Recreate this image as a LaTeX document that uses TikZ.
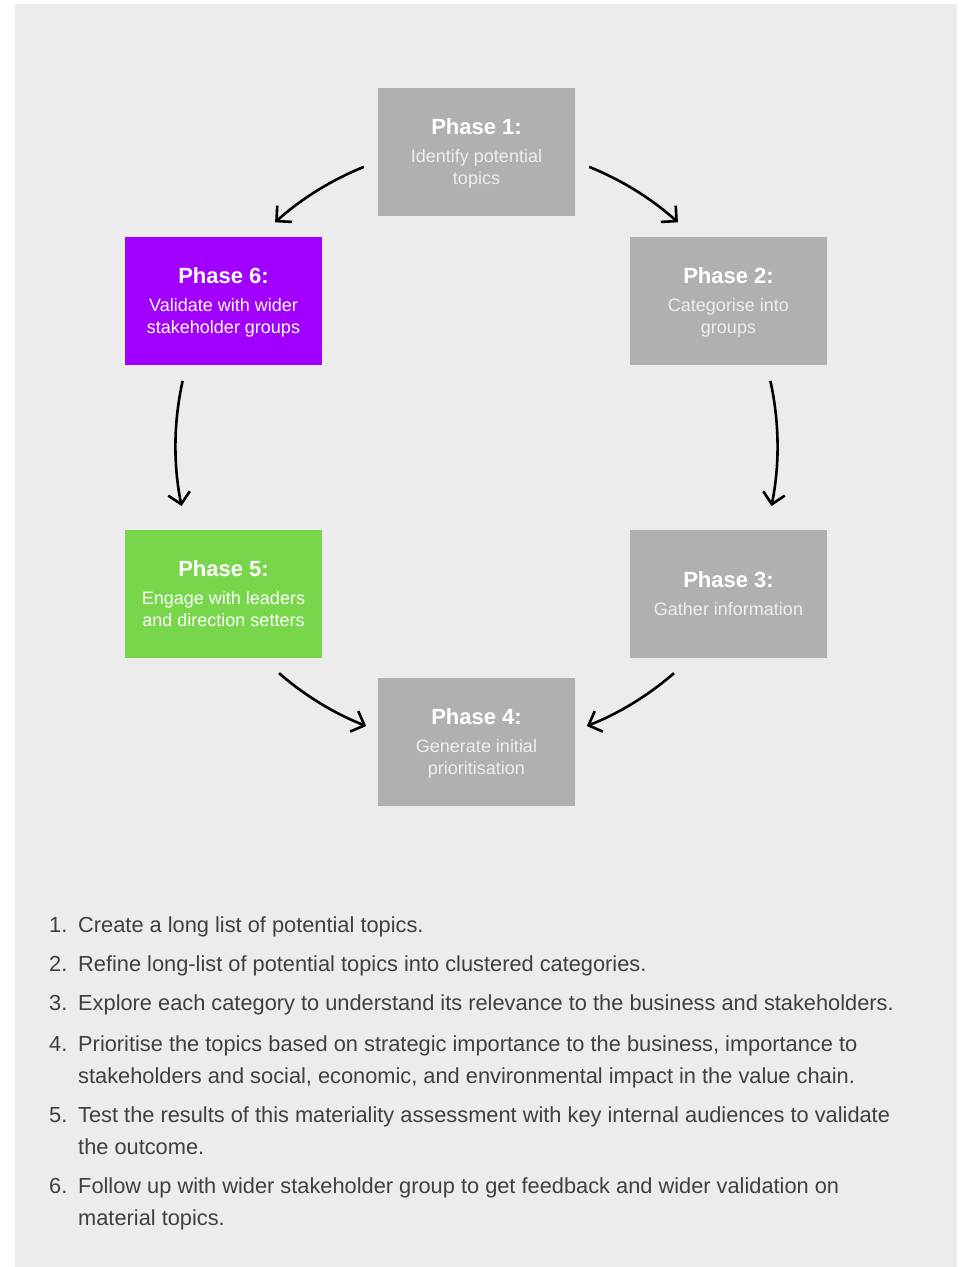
\documentclass[tikz,border=0pt]{standalone}
\usepackage{fontspec}
\setmainfont{Liberation Sans}
\usetikzlibrary{arrows.meta}
\definecolor{panel}{HTML}{ECECEC}
\definecolor{boxgray}{HTML}{B0B0B0}
\definecolor{violetbox}{HTML}{A100FF}
\definecolor{greenbox}{HTML}{78D64B}
\definecolor{subgray}{HTML}{EEEEEE}
\definecolor{listtext}{HTML}{3F3F3F}
\newcommand\phasetitle[1]{{\color{white}\fontsize{22}{22}\selectfont\bfseries #1}}

\begin{document}
\begin{tikzpicture}[x=1pt,y=1pt,
  phase/.style={minimum width=197pt, minimum height=128pt, inner sep=0pt,
    align=center, text depth=0pt, font=\fontsize{18}{22}\selectfont,
    text=subgray, fill=boxgray},
  hot/.style={text=white},
  flow/.style={line width=2.6pt, -{Straight Barb[length=11pt,width=22pt]}},
  item/.style={anchor=base west, inner sep=0pt, text=listtext,
    font=\fontsize{21.8}{26}\selectfont}
]
% page and panel
\useasboundingbox (0,0) rectangle (964,-1267);
\fill[white] (0,0) rectangle (964,-1267);
\fill[panel] (15,-4) rectangle (957,-1267);

% phase boxes
\node[phase] (p1) at (476.5,-152) {\phasetitle{Phase 1:}\\[6pt]Identify potential\\topics};
\node[phase] (p2) at (728.5,-301) {\phasetitle{Phase 2:}\\[6pt]Categorise into\\groups};
\node[phase] (p3) at (728.5,-594) {\phasetitle{Phase 3:}\\[6pt]Gather information};
\node[phase] (p4) at (476.5,-742) {\phasetitle{Phase 4:}\\[6pt]Generate initial\\prioritisation};
\node[phase,hot,fill=greenbox] (p5) at (223.5,-594) {\phasetitle{Phase 5:}\\[6pt]Engage with leaders\\and direction setters};
\node[phase,hot,fill=violetbox] (p6) at (223.5,-301) {\phasetitle{Phase 6:}\\[6pt]Validate with wider\\stakeholder groups};

% arrows run along one circle round the middle of the cycle
\coordinate (o) at (476.5,-446);
\path (o) ++(112:301) coordinate (a1s)  (o) ++(132:301) coordinate (a1e);
\path (o) ++(68:301) coordinate (a2s)   (o) ++(48:301) coordinate (a2e);
\path (o) ++(167.5:301) coordinate (a3s) (o) ++(191.5:301) coordinate (a3e);
\path (o) ++(12.5:301) coordinate (a4s)  (o) ++(-11.5:301) coordinate (a4e);
\path (o) ++(229:301) coordinate (a5s)  (o) ++(248.5:301) coordinate (a5e);
\path (o) ++(-49:301) coordinate (a6s)  (o) ++(-68.5:301) coordinate (a6e);

\draw[flow] (a1s) arc[start angle=112, end angle=132, radius=301];
\draw[flow] (a2s) arc[start angle=68, end angle=48, radius=301];
\draw[flow] (a3s) arc[start angle=167.5, end angle=191.5, radius=301];
\draw[flow] (a4s) arc[start angle=12.5, end angle=-11.5, radius=301];
\draw[flow] (a5s) arc[start angle=229, end angle=248.5, radius=301];
\draw[flow] (a6s) arc[start angle=-49, end angle=-68.5, radius=301];

% numbered steps
\node[item] (n1) at (49,-932) {1.};
\node[item] (t1) at (78,-932) {Create a long list of potential topics.};
\node[item] (n2) at (49,-971) {2.};
\node[item] (t2) at (78,-971) {Refine long-list of potential topics into clustered categories.};
\node[item] (n3) at (49,-1010) {3.};
\node[item] (t3) at (78,-1010) {Explore each category to understand its relevance to the business and stakeholders.};
\node[item] (n4) at (49,-1051) {4.};
\node[item] (t4a) at (78,-1051) {Prioritise the topics based on strategic importance to the business, importance to};
\node[item] (t4b) at (78,-1083) {stakeholders and social, economic, and environmental impact in the value chain.};
\node[item] (n5) at (49,-1122) {5.};
\node[item] (t5a) at (78,-1122) {Test the results of this materiality assessment with key internal audiences to validate};
\node[item] (t5b) at (78,-1154) {the outcome.};
\node[item] (n6) at (49,-1193) {6.};
\node[item] (t6a) at (78,-1193) {Follow up with wider stakeholder group to get feedback and wider validation on};
\node[item] (t6b) at (78,-1225) {material topics.};
\end{tikzpicture}
\end{document}
